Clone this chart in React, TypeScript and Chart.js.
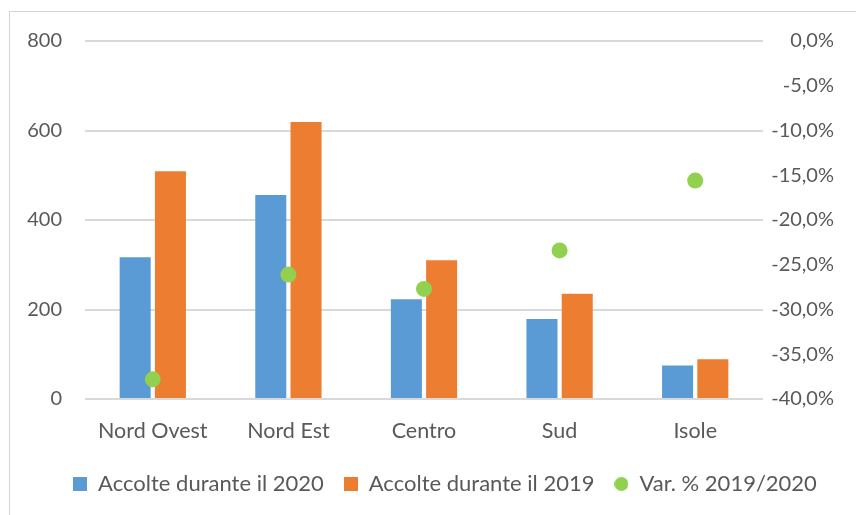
import React, { useEffect, useRef } from "react";
import { Chart, registerables } from "chart.js";

Chart.register(...registerables);

const categories = ["Nord Ovest", "Nord Est", "Centro", "Sud", "Isole"];
const accolte2020 = [317, 456, 223, 179, 75];
const accolte2019 = [509, 619, 310, 235, 89];
const varPct = [-37.8, -26.1, -27.7, -23.4, -15.6];
const seriesNames = ["Accolte durante il 2020", "Accolte durante il 2019", "Var. % 2019/2020"];

const BLUE = "#5B9BD5";
const ORANGE = "#ED7D31";
const GREEN = "#92D050";
const TEXT = "#595959";
const GRID = "#D9D9D9";
const FONT = "Lato, 'Open Sans', sans-serif";

function makeIcon(color: string, circle: boolean, size: number) {
  const c = document.createElement("canvas");
  c.width = size;
  c.height = size;
  const ctx = c.getContext("2d")!;
  ctx.fillStyle = color;
  if (circle) {
    ctx.beginPath();
    ctx.arc(size / 2, size / 2, size / 2, 0, Math.PI * 2);
    ctx.fill();
  } else {
    ctx.fillRect(0, 0, size, size);
  }
  return c;
}

const shiftLegend = {
  id: "shiftLegend",
  afterLayout(chart: any) {
    const lg = chart.legend;
    if (lg) {
      lg.left += 23;
      lg.right += 23;
    }
  },
};

export default function App() {
  const ref = useRef<HTMLCanvasElement | null>(null);

  useEffect(() => {
    if (!ref.current) return;
    const icons = [makeIcon(BLUE, false, 14), makeIcon(ORANGE, false, 14), makeIcon(GREEN, true, 14)];
    const chart = new Chart(ref.current, {
      type: "bar",
      data: {
        labels: categories,
        datasets: [
          {
            type: "bar",
            label: seriesNames[0],
            data: accolte2020,
            backgroundColor: BLUE,
            yAxisID: "y",
            order: 1,
            categoryPercentage: 0.52,
            barPercentage: 0.88,
          },
          {
            type: "bar",
            label: seriesNames[1],
            data: accolte2019,
            backgroundColor: ORANGE,
            yAxisID: "y",
            order: 1,
            categoryPercentage: 0.52,
            barPercentage: 0.88,
          },
          {
            type: "line",
            label: seriesNames[2],
            data: varPct,
            showLine: false,
            backgroundColor: GREEN,
            borderColor: GREEN,
            pointRadius: 8,
            pointBorderWidth: 0,
            pointHoverRadius: 8,
            yAxisID: "y1",
            order: 0,
          } as any,
        ],
      },
      plugins: [shiftLegend],
      options: {
        responsive: false,
        animation: false,
        layout: { padding: { left: 10, right: 22, top: 41, bottom: 10 } },
        scales: {
          x: {
            grid: { display: false, drawTicks: false },
            border: { display: false },
            ticks: { color: TEXT, font: { family: FONT, size: 21.5 }, padding: 19 },
            afterFit: (s: any) => {
              s.height = 54;
            },
          },
          y: {
            position: "left",
            min: 0,
            max: 800,
            grid: { color: GRID, lineWidth: 2, drawTicks: false },
            border: { display: false },
            ticks: { stepSize: 200, color: TEXT, font: { family: FONT, size: 20 }, padding: 23 },
            afterFit: (s: any) => {
              s.width = 75;
            },
          },
          y1: {
            position: "right",
            min: -40,
            max: 0,
            grid: { display: false, drawTicks: false },
            border: { display: false },
            ticks: {
              stepSize: 5,
              color: TEXT,
              font: { family: FONT, size: 20 },
              padding: 14,
              crossAlign: "far",
              callback: (v: any) => Number(v).toFixed(1).replace(".", ",") + "%",
            },
            afterFit: (s: any) => {
              s.width = 71;
            },
          },
        },
        plugins: {
          tooltip: { enabled: false },
          legend: {
            position: "bottom",
            labels: {
              color: TEXT,
              font: { family: FONT, size: 22 },
              usePointStyle: true,
              boxWidth: 14,
              boxHeight: 14,
              padding: 20,
              sort: (a: any, b: any) => a.datasetIndex - b.datasetIndex,
              generateLabels: (ch: any) => {
                const items = Chart.defaults.plugins.legend.labels.generateLabels(ch);
                return items.map((it: any) => ({ ...it, pointStyle: icons[it.datasetIndex] }));
              },
            },
          },
        },
      },
    });
    return () => chart.destroy();
  }, []);

  return (
    <div style={{ position: "fixed", left: 0, top: 0, width: 856, height: 515, overflow: "hidden", background: "#fff" }}>
      <div
        style={{
          position: "absolute",
          left: 9,
          top: 11,
          width: 900,
          height: 600,
          border: "1px solid #D4D4D4",
        }}
      />
      <canvas ref={ref} width={856} height={515} style={{ position: "absolute", left: 0, top: 0, width: 856, height: 515 }} />
    </div>
  );
}
